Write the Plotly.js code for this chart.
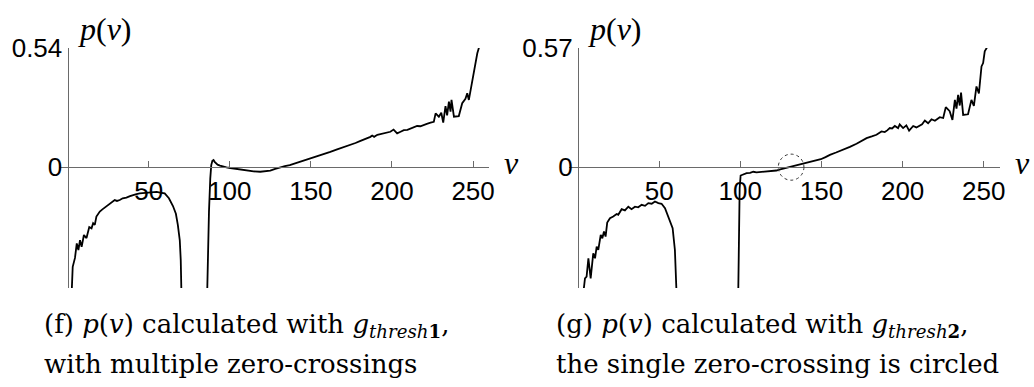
<!DOCTYPE html>
<html>
<head>
<meta charset="utf-8">
<script src="https://cdn.plot.ly/plotly-3.0.1.min.js"></script>
<style>
  html, body { margin: 0; padding: 0; background: #fff; }
  #chart { width: 1034px; height: 387px; }
</style>
</head>
<body>
<div id="chart"></div>
<script>
// ---------- data: panel (f) p(v) with g_thresh1 ----------
const vF = [1.1, 2.6, 3.2, 4.6, 5.7, 6.7, 7.7, 8.7, 10.1, 11.7, 13.4, 14.8, 15.8, 16.8, 17.8, 19.9, 21.5, 23, 26, 29.1, 30.5, 32.2, 34, 36.3, 38.5, 40.4, 42.5, 44.5, 48.6, 50.5, 52.7, 55, 57, 59.9, 62.5, 65, 66.8, 68, 69.2, 69.8, 70.3,
  null,
  86.0, 86.5, 87.2, 88.0, 88.6, 89.3, 90.0, 90.7, 91.5, 92.5, 94, 96, 98, 100.3, 103, 106.5, 110, 114.7, 118.8, 122, 125, 128, 131, 134, 137, 140, 143.2, 146.5, 150.3, 154, 157.9, 162, 166.2, 170, 174.4, 177.5, 180.6, 183.5, 186.7, 187.8, 189, 191, 193, 195, 197, 199, 201, 202, 203.2, 205.3, 207.3, 209.5, 211.4, 213.5, 215.5, 217.5, 219.6, 221.5, 223.8, 225.8, 226.9, 228.9, 230.4, 231.6, 233, 234, 235.1, 236.1, 236.7, 238.2, 241.2, 243.3, 245.3, 246.4, 247.4, 248.5, 249.5, 250.9, 252.6, 253.6];
const pF = [-0.56, -0.56, -0.45, -0.41, -0.344, -0.374, -0.33, -0.36, -0.306, -0.32, -0.27, -0.276, -0.253, -0.26, -0.223, -0.2, -0.19, -0.181, -0.166, -0.148, -0.152, -0.148, -0.14, -0.137, -0.13, -0.125, -0.121, -0.118, -0.115, -0.112, -0.11, -0.111, -0.114, -0.118, -0.14, -0.175, -0.21, -0.26, -0.33, -0.42, -0.6,
  null,
  -0.6, -0.4, -0.2, -0.05, 0.01, 0.03, 0.033, 0.025, 0.018, 0.012, 0.008, 0.003, 0.0, -0.003, -0.006, -0.01, -0.013, -0.018, -0.02, -0.018, -0.015, -0.007, 0.0, 0.005, 0.01, 0.017, 0.025, 0.032, 0.04, 0.05, 0.06, 0.07, 0.081, 0.09, 0.10, 0.11, 0.12, 0.128, 0.138, 0.144, 0.138, 0.147, 0.15, 0.154, 0.158, 0.161, 0.171, 0.162, 0.154, 0.161, 0.168, 0.17, 0.176, 0.18, 0.187, 0.186, 0.19, 0.197, 0.202, 0.206, 0.244, 0.229, 0.247, 0.202, 0.277, 0.235, 0.297, 0.252, 0.305, 0.229, 0.232, 0.29, 0.31, 0.335, 0.305, 0.35, 0.395, 0.455, 0.516, 0.541];

// ---------- data: panel (g) p(v) with g_thresh2 ----------
const vG = [1.6, 3.3, 4.3, 5.3, 6.4, 7.8, 9.4, 10.5, 11.5, 12.5, 14, 15, 16, 17, 18, 19.7, 21.7, 23.8, 24.8, 26.9, 28.9, 31, 33, 35.1, 37.1, 39.2, 41.3, 43.3, 45.4, 47.4, 49.5, 51.5, 53.6, 55.6, 56.7, 58.3, 59.7, 60.8,
  null,
  98.7, 99.2, 99.6, 100.2, 101.5, 103.9, 106, 108, 110, 112, 114, 116.2, 118.2, 120.3, 122.3, 124, 125.5, 127.5, 129, 131, 133, 135, 138.7, 142, 145.5, 149.6, 152.5, 155.2, 159, 163.4, 167.5, 171.6, 174.5, 177.8, 181, 183.9, 187, 189, 190.5, 192.1, 193.5, 195.2, 197.2, 198.2, 200.3, 202.3, 204, 206.5, 208.5, 210.6, 212, 213.7, 215.7, 217.8, 219.9, 222.9, 225, 226.6, 229, 230.7, 232.2, 233.2, 234.2, 235.2, 236, 237.3, 240.3, 242.4, 243.9, 245.5, 247, 248.6, 249.6, 250.6, 252];
const pG = [-0.6, -0.6, -0.532, -0.524, -0.436, -0.532, -0.412, -0.436, -0.38, -0.396, -0.324, -0.34, -0.308, -0.332, -0.265, -0.244, -0.236, -0.224, -0.228, -0.201, -0.207, -0.189, -0.201, -0.189, -0.192, -0.18, -0.185, -0.172, -0.175, -0.164, -0.172, -0.175, -0.196, -0.236, -0.252, -0.292, -0.396, -0.62,
  null,
  -0.62, -0.3, -0.1, -0.04, -0.035, -0.029, -0.027, -0.022, -0.025, -0.024, -0.022, -0.021, -0.02, -0.017, -0.016, -0.012, -0.009, -0.005, -0.002, 0.003, 0.007, 0.012, 0.019, 0.026, 0.032, 0.038, 0.048, 0.059, 0.07, 0.083, 0.097, 0.112, 0.124, 0.139, 0.147, 0.155, 0.171, 0.168, 0.176, 0.187, 0.185, 0.197, 0.187, 0.205, 0.187, 0.2, 0.175, 0.197, 0.19, 0.2, 0.205, 0.223, 0.21, 0.229, 0.222, 0.239, 0.235, 0.287, 0.268, 0.226, 0.322, 0.28, 0.346, 0.295, 0.357, 0.25, 0.253, 0.322, 0.293, 0.386, 0.353, 0.482, 0.498, 0.554, 0.573];

// tick values / labels
const xTicks = [50, 100, 150, 200, 250];
const yTicksF = [0, 0.54];
const yTicksG = [0, 0.57];
// zero crossing circled in (g)
const zeroCrossG = 131.3;

const W = 1034, H = 387;
const axisCol = '#6a6a6a';
const tickFont = {family: 'Liberation Sans, Arial, sans-serif', size: 26, color: '#000'};
const serif = 'DejaVu Serif, serif';
const mathSerif = 'Liberation Serif, serif';

const yDom = [1 - 288 / H, 1 - 48 / H];
const zeroPos = 1 - 167.3 / H;

function xAx(dom, lo) {
  return {domain: dom, range: [lo, 260], anchor: 'free', position: zeroPos,
    showline: true, linecolor: axisCol, linewidth: 1, ticks: 'inside', ticklen: 6,
    tickcolor: axisCol, tickwidth: 1, tickvals: xTicks, showgrid: false, zeroline: false,
    tickfont: tickFont, fixedrange: true};
}
function yAx(range, pos, vals) {
  return {domain: yDom, range: range, anchor: 'free', position: pos,
    showline: true, linecolor: axisCol, linewidth: 1, ticks: 'inside', ticklen: 5,
    tickcolor: axisCol, tickwidth: 1, tickvals: vals, ticktext: vals.map(String),
    showgrid: false, zeroline: false, tickfont: tickFont, fixedrange: true};
}

const data = [
  {x: vF, y: pF, xaxis: 'x', yaxis: 'y', mode: 'lines', connectgaps: false,
   line: {color: '#000', width: 1.8}, hoverinfo: 'skip'},
  {x: vG, y: pG, xaxis: 'x2', yaxis: 'y2', mode: 'lines', connectgaps: false,
   line: {color: '#000', width: 1.8}, hoverinfo: 'skip'}
];

function lbl(text, xpx, ypx, fam, size) {
  return {text: text, xref: 'paper', yref: 'paper', x: xpx / W, y: 1 - ypx / H,
    xanchor: 'left', yanchor: 'middle', showarrow: false,
    font: {family: fam, size: size, color: '#000'}};
}

const layout = {
  width: W, height: H,
  margin: {l: 0, r: 0, t: 0, b: 0},
  paper_bgcolor: '#fff', plot_bgcolor: 'rgba(0,0,0,0)',
  showlegend: false,
  xaxis: xAx([58.6 / W, 489.3 / W], -5.5),
  yaxis: yAx([-0.546, 0.54], 67.5 / W, yTicksF),
  xaxis2: xAx([569.4 / W, 1000 / W], -5.3),
  yaxis2: yAx([-0.578, 0.57], 578 / W, yTicksG),
  shapes: [
    {type: 'circle', xref: 'x2', yref: 'y2',
     x0: zeroCrossG - 7.9, x1: zeroCrossG + 7.9, y0: -0.0623, y1: 0.0623,
     line: {color: '#333', width: 1, dash: 'dot'}}
  ],
  annotations: [
    lbl('<i>p</i>(<i>v</i>)', 76, 29, mathSerif, 32),
    lbl('<i>p</i>(<i>v</i>)', 586, 29, mathSerif, 32),
    lbl('<i>v</i>', 502, 163, mathSerif, 32),
    lbl('<i>v</i>', 1013, 163, mathSerif, 32),
    lbl('(f) <i>p</i>(<i>v</i>) calculated with <i>g</i><sub><i>thresh</i><b>1</b></sub>,', 42, 325, serif, 26),
    lbl('with multiple zero-crossings', 42, 364, serif, 26),
    lbl('(g) <i>p</i>(<i>v</i>) calculated with <i>g</i><sub><i>thresh</i><b>2</b></sub>,', 554, 325, serif, 26),
    lbl('the single zero-crossing is circled', 554, 364, serif, 26)
  ]
};

Plotly.newPlot('chart', data, layout, {staticPlot: true, displayModeBar: false});
</script>
</body>
</html>
